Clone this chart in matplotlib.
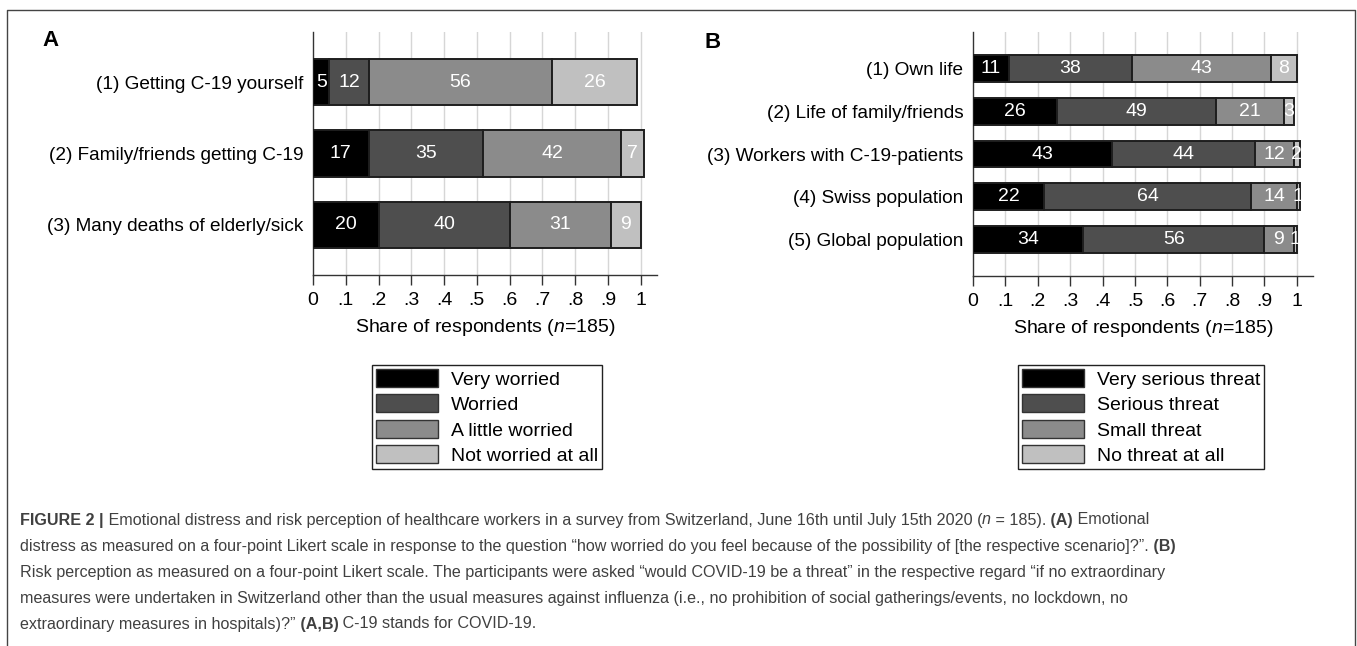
import matplotlib
matplotlib.use("Agg")
import matplotlib.pyplot as plt
from matplotlib.lines import Line2D
from matplotlib.patches import Patch

plt.rcParams['font.family'] = ['Liberation Sans', 'DejaVu Sans']
plt.rcParams['mathtext.fontset'] = 'custom'
plt.rcParams['mathtext.rm'] = 'Liberation Sans'
plt.rcParams['mathtext.it'] = 'Liberation Sans:italic'
plt.rcParams['mathtext.bf'] = 'Liberation Sans:bold'

# panel A: worries (percent of respondents)
worry_items = ["(1) Getting C-19 yourself",
               "(2) Family/friends getting C-19",
               "(3) Many deaths of elderly/sick"]
worry_levels = ["Very worried", "Worried", "A little worried", "Not worried at all"]
very_worried = [5, 17, 20]
worried = [12, 35, 40]
little_worried = [56, 42, 31]
not_worried = [26, 7, 9]

# panel B: threat perception (percent of respondents)
threat_items = ["(1) Own life",
                "(2) Life of family/friends",
                "(3) Workers with C-19-patients",
                "(4) Swiss population",
                "(5) Global population"]
threat_levels = ["Very serious threat", "Serious threat", "Small threat", "No threat at all"]
very_serious = [11, 26, 43, 22, 34]
serious = [38, 49, 44, 64, 56]
small = [43, 21, 12, 14, 9]
no_threat = [8, 3, 2, 1, 1]

greys = ['#000000', '#4e4e4e', '#8b8b8b', '#c0c0c0']
edge = '#1e1e1e'
FS = 14

W, H = 1357, 646
fig = plt.figure(figsize=(W / 100, H / 100), dpi=100)


def stacked(ax, items, series, labels, bar_h, ylim):
    ys = list(range(len(items)))
    left = [0.0] * len(items)
    for vals, col, lab in zip(series, greys, labels):
        shares = [v / 100 for v in vals]
        bars = ax.barh(ys, shares, left=left, height=bar_h, color=col,
                       edgecolor=edge, linewidth=1.4, label=lab, zorder=3)
        for rect, v, s, l0, y in zip(bars, vals, shares, left, ys):
            t = ax.text(l0 + s / 2, y, str(v), ha='center', va='center',
                        color='white', fontsize=FS, zorder=4)
            t.set_clip_path(rect)
        left = [a + b for a, b in zip(left, shares)]
    ax.set_yticks(ys)
    ax.set_yticklabels(items, fontsize=13.7)
    ax.set_ylim(*ylim)
    ax.set_xlim(0, 1.05)
    ticks = [i / 10 for i in range(11)]
    ax.set_xticks(ticks)
    ax.set_xticklabels(['0'] + ['.%d' % i for i in range(1, 10)] + ['1'], fontsize=FS)
    ax.tick_params(axis='y', length=0, pad=7)
    ax.tick_params(axis='x', length=7, width=1, color='#333333', pad=5)
    for t in ticks[1:]:
        ax.axvline(t, color='#d6d6d6', linewidth=1, zorder=1)
    for side in ['top', 'right']:
        ax.spines[side].set_visible(False)
    for side in ['left', 'bottom']:
        ax.spines[side].set_color('#333333')
        ax.spines[side].set_linewidth(1)
    ax.set_xlabel(r"Share of respondents ($\mathit{n}$=185)", fontsize=FS, labelpad=6)


def legend(labels, xc):
    handles = [Patch(facecolor=c, edgecolor='#333333', linewidth=1) for c in greys]
    fig.legend(handles, labels, loc='upper center', bbox_to_anchor=(xc, 1 - 365 / H),
               bbox_transform=fig.transFigure, fontsize=FS, frameon=True,
               fancybox=False, edgecolor='#222222', framealpha=1,
               handlelength=3.2, handleheight=1.05, handletextpad=0.65,
               labelspacing=0.3, borderpad=0.2, borderaxespad=0)


axA = fig.add_axes([313 / W, 1 - 275 / H, 344 / W, 243 / H])
stacked(axA, worry_items, [very_worried, worried, little_worried, not_worried],
        worry_levels, 0.645, (2.7, -0.7))
legend(worry_levels, 487 / W)

axB = fig.add_axes([973 / W, 1 - 276 / H, 340 / W, 244 / H])
stacked(axB, threat_items, [very_serious, serious, small, no_threat],
        threat_levels, 0.63, (4.86, -0.86))
legend(threat_levels, 1141 / W)

fig.text(42 / W, 1 - 40 / H, "A", fontsize=16, fontweight='bold', va='center')
fig.text(704 / W, 1 - 42 / H, "B", fontsize=16, fontweight='bold', va='center')

# outer frame (open at the bottom)
fx0, fx1, fy1 = 7 / W, 1355 / W, 1 - 10 / H
fig.add_artist(Line2D([fx0, fx0, fx1, fx1], [0, fy1, fy1, 0],
                      transform=fig.transFigure, color='#444444', linewidth=1))

# caption, drawn piece by piece so bold/italic runs sit inline
cap_lines = [
    [("FIGURE 2 |", 'b'),
     (" Emotional distress and risk perception of healthcare workers in a survey from "
      "Switzerland, June 16th until July 15th 2020 (", 'r'),
     ("n", 'i'), (" = 185).", 'r'), (" (A)", 'b'), (" Emotional", 'r')],
    [("distress as measured on a four-point Likert scale in response to the question "
      "\u201chow worried do you feel because of the possibility of [the respective scenario]?\u201d.", 'r'),
     (" (B)", 'b')],
    [("Risk perception as measured on a four-point Likert scale. The participants were asked "
      "\u201cwould COVID-19 be a threat\u201d in the respective regard \u201cif no extraordinary", 'r')],
    [("measures were undertaken in Switzerland other than the usual measures against influenza "
      "(i.e., no prohibition of social gatherings/events, no lockdown, no", 'r')],
    [("extraordinary measures in hospitals)?\u201d", 'r'), (" (A,B)", 'b'),
     (" C-19 stands for COVID-19.", 'r')],
]
cap_y = [520, 546, 572, 598, 624]
styles = {'r': ('normal', 'normal'), 'b': ('bold', 'normal'), 'i': ('normal', 'italic')}

renderer = fig.canvas.get_renderer()
for runs, yp in zip(cap_lines, cap_y):
    x = 20.0
    for s, st in runs:
        w, sty = styles[st]
        t = fig.text(x / W, 1 - yp / H, s, fontsize=11.6,
                     fontweight=w, fontstyle=sty, color='#404040', va='center')
        x += t.get_window_extent(renderer).width

fig.savefig("out.png", dpi=100)
